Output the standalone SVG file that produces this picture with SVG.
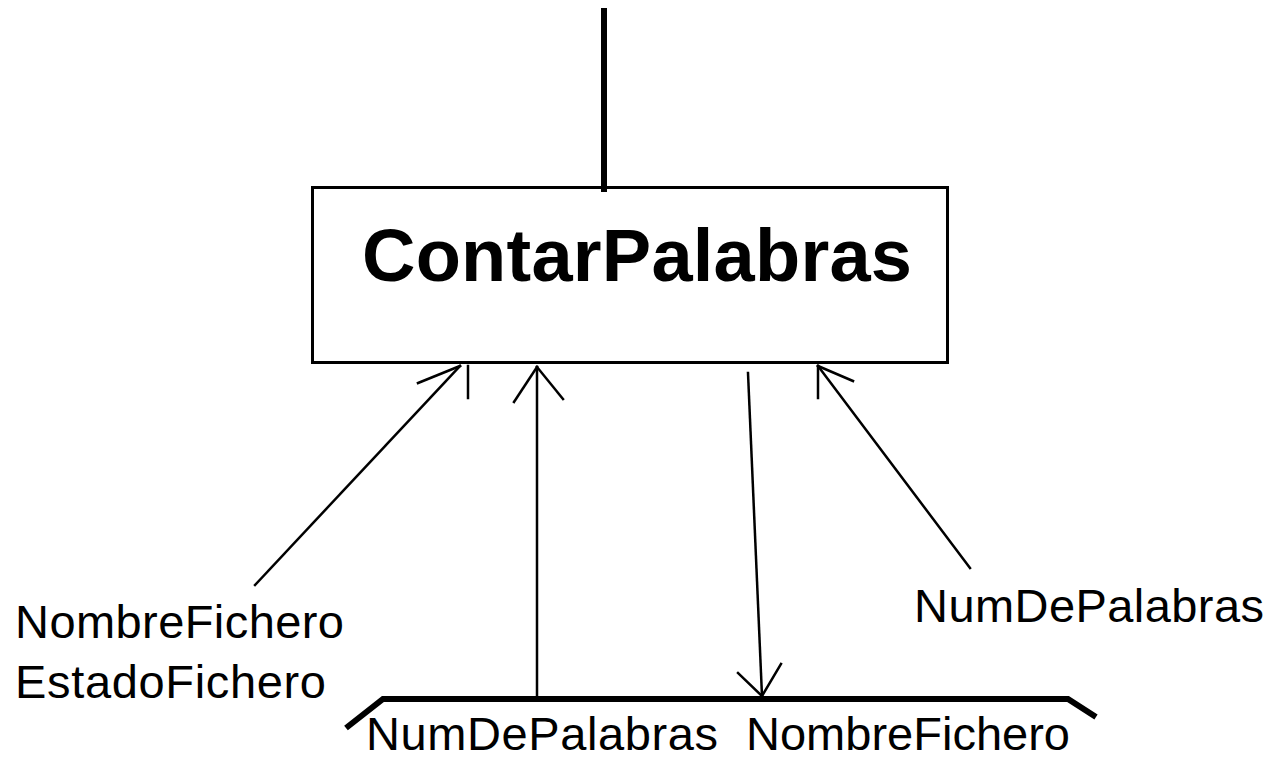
<svg xmlns="http://www.w3.org/2000/svg" width="1270" height="760" viewBox="0 0 1270 760">
  <style>
    .title { font-family: "Liberation Sans", Arial, sans-serif; font-weight: bold; font-size: 74px; fill: #000; }
    .lbl { font-family: "Liberation Sans", Arial, sans-serif; font-size: 47px; fill: #000; }
    .thin { stroke: #000; stroke-width: 2.5; fill: none; stroke-linecap: square; }
    .thick { stroke: #000; stroke-width: 6; fill: none; }
  </style>
  <rect width="1270" height="760" fill="#fff"/>

  <!-- module box -->
  <g id="node-contar">
    <rect x="312.5" y="187.5" width="635" height="175" fill="#fff" stroke="#000" stroke-width="3"/>
    <text class="title" x="362" y="281" textLength="550" lengthAdjust="spacing">ContarPalabras</text>
  </g>

  <!-- data couple labels -->
  <g id="label-left">
    <text class="lbl" x="15" y="638" textLength="329" lengthAdjust="spacing">NombreFichero</text>
    <text class="lbl" x="15" y="698" textLength="311" lengthAdjust="spacing">EstadoFichero</text>
  </g>
  <g id="label-right">
    <text class="lbl" x="914" y="622" textLength="350" lengthAdjust="spacing">NumDePalabras</text>
  </g>

  <!-- called module bar with its parameters -->
  <g id="node-bottom">
    <text class="lbl" x="366" y="750" textLength="352" lengthAdjust="spacing">NumDePalabras</text>
    <text class="lbl" x="746" y="750" textLength="324" lengthAdjust="spacing">NombreFichero</text>
  </g>

  <g id="connectors">
    <!-- call from the parent -->
    <line class="thick" x1="604" y1="8" x2="604" y2="192"/>
    <!-- bottom bar -->
    <path class="thick" d="M346 728 L383 699 L1068 699 L1096 717"/>
    <!-- in: NombreFichero / EstadoFichero -->
    <line class="thin" x1="255" y1="585" x2="460" y2="366"/>
    <line class="thin" x1="460" y1="366" x2="418" y2="383"/>
    <line class="thin" x1="468" y1="366" x2="468" y2="398"/>
    <!-- up from bottom: NumDePalabras -->
    <line class="thin" x1="537" y1="697" x2="537" y2="367"/>
    <line class="thin" x1="537" y1="367" x2="514" y2="402"/>
    <line class="thin" x1="537" y1="367" x2="563" y2="399"/>
    <!-- down to bottom: NombreFichero -->
    <line class="thin" x1="748" y1="373" x2="762" y2="696"/>
    <line class="thin" x1="762" y1="696" x2="738" y2="673"/>
    <line class="thin" x1="762" y1="696" x2="781" y2="664"/>
    <!-- in: NumDePalabras -->
    <line class="thin" x1="970" y1="568" x2="818" y2="366"/>
    <line class="thin" x1="818" y1="366" x2="818" y2="398"/>
    <line class="thin" x1="818" y1="366" x2="853" y2="381"/>
  </g>
</svg>
